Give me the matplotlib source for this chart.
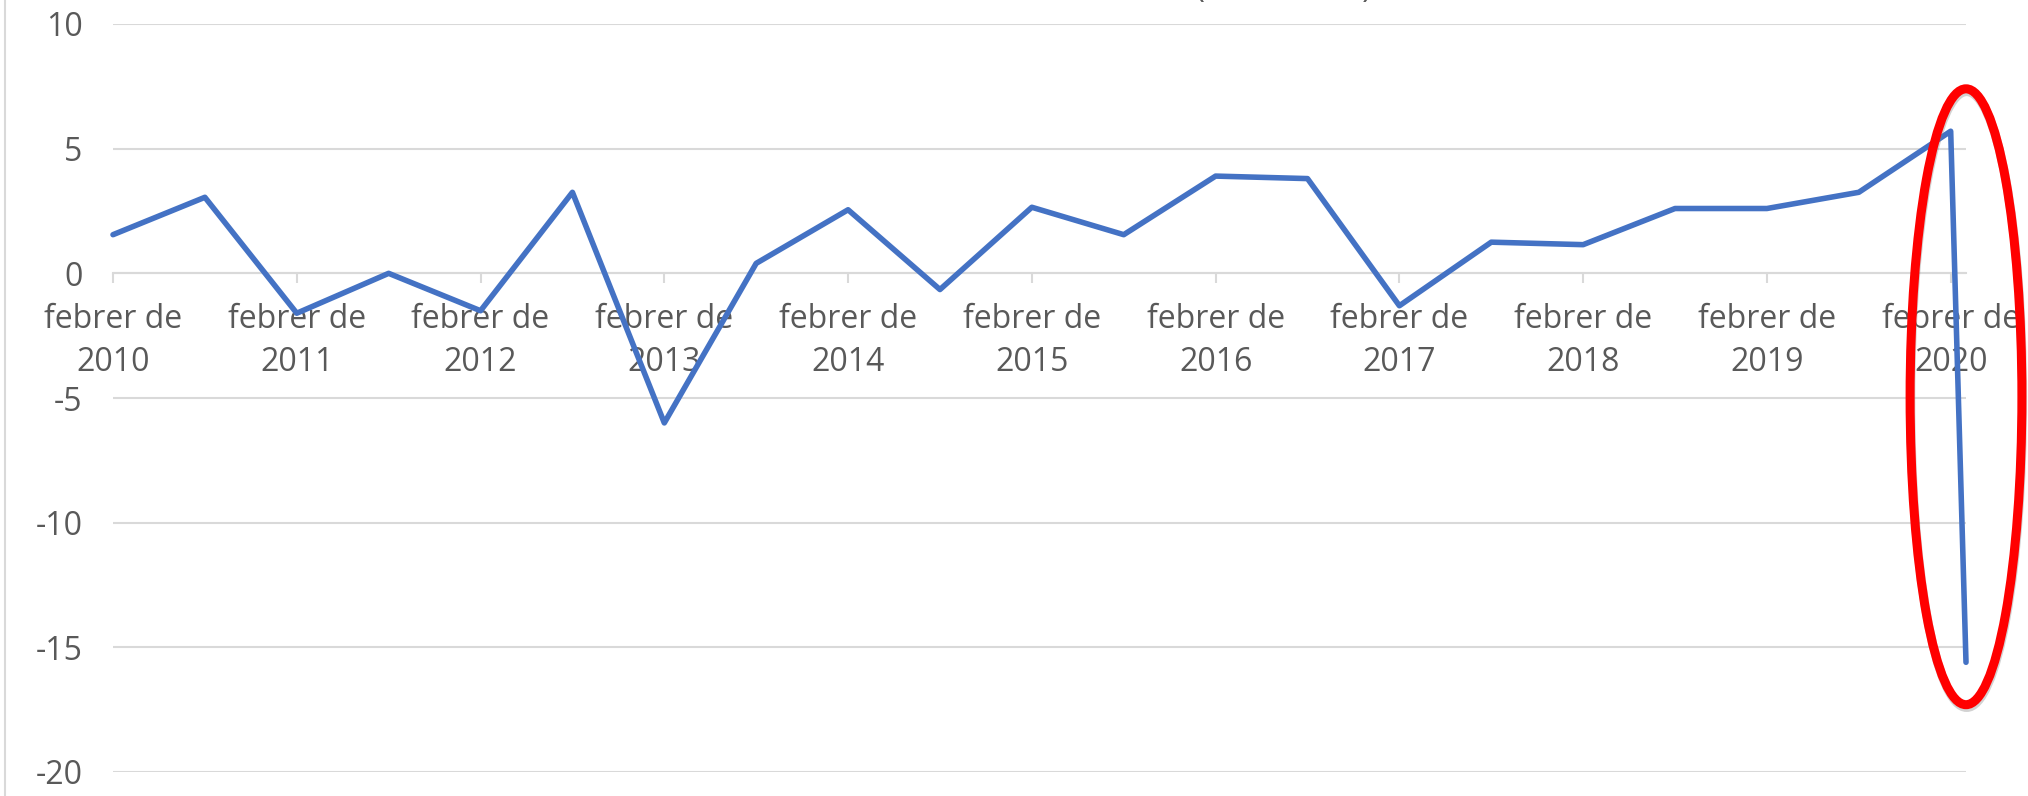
import numpy as np
import matplotlib
matplotlib.use("Agg")
import matplotlib.pyplot as plt
import matplotlib.patheffects as pe
from matplotlib.patches import Ellipse
from matplotlib.lines import Line2D

# dades llegides del grafic (punts semestrals + marc 2020)
dates = ["2010-02", "2010-08", "2011-02", "2011-08", "2012-02", "2012-08",
         "2013-02", "2013-08", "2014-02", "2014-08", "2015-02", "2015-08",
         "2016-02", "2016-08", "2017-02", "2017-08", "2018-02", "2018-08",
         "2019-02", "2019-08", "2020-02", "2020-03"]
values = [1.55, 3.05, -1.6, 0.0, -1.5, 3.25,
          -6.0, 0.4, 2.55, -0.65, 2.65, 1.55,
          3.9, 3.8, -1.3, 1.25, 1.15, 2.6,
          2.6, 3.25, 5.7, -15.6]
tick_years = list(range(2010, 2021))
tick_labels = ["febrer de\n%d" % y for y in tick_years]
y_ticks = [-20, -15, -10, -5, 0, 5, 10]
title = "Evolució de l'IPI (2010-2020)"

def month_index(d):     # mesos des de febrer 2010
    return (int(d[:4]) - 2010) * 12 + int(d[5:]) - 2

months = [month_index(d) for d in dates]
tick_pos = [month_index("%d-02" % y) for y in tick_years]

plt.rcParams['font.family'] = ['Open Sans', 'DejaVu Sans']
plt.rcParams['axes.unicode_minus'] = False
W, H = 2028, 796
fig = plt.figure(figsize=(W / 100, H / 100), dpi=100)
ax = fig.add_axes([113 / W, 1 - 772 / H, (1966 - 113) / W, (772 - 24) / H])

grey, txt = '#D9D9D9', '#595959'
ax.plot(months, values, color='#4472C4', lw=4.0, solid_joinstyle='round',
        solid_capstyle='round', clip_on=False, zorder=3)

ax.set_xlim(months[0], months[-1])
ax.set_ylim(y_ticks[0], y_ticks[-1])
ax.set_yticks(y_ticks)
ax.yaxis.grid(True, color=grey, lw=1.5)
ax.set_axisbelow(True)
for s in ['top', 'right', 'left']:
    ax.spines[s].set_visible(False)
ax.spines['bottom'].set_position(('data', 0))
ax.spines['bottom'].set_color(grey)
ax.spines['bottom'].set_linewidth(1.5)

ax.set_xticks(tick_pos)
ax.set_xticklabels(tick_labels)
for lbl in ax.get_xticklabels():
    lbl.set_linespacing(1.4)
ax.tick_params(axis='x', length=7.2, width=1.5, color=grey, labelsize=23,
               labelcolor=txt, pad=14)
ax.tick_params(axis='y', length=0, labelsize=23, labelcolor=txt, pad=22)

# el cercle vermell al voltant de la caiguda final
cy = (values[-2] + values[-1]) / 2
ell = Ellipse((months[-1], cy), 7.3, abs(values[-2] - values[-1]) + 3.4,
              fill=False, edgecolor='#FF0000', lw=6.5, clip_on=False, zorder=4)
ell.set_path_effects([pe.SimpleLineShadow(offset=(0.5, -2), shadow_color='gray', alpha=0.35),
                      pe.Normal()])
ax.add_patch(ell)

fig.text(1372 / W, 1 + 3 / H, title, ha='right', va='baseline', fontsize=23,
         color=txt)
fig.add_artist(Line2D([5 / W, 5 / W], [0, 1], color=grey, lw=1.5,
                      transform=fig.transFigure))

fig.savefig("out.png", dpi=100)
